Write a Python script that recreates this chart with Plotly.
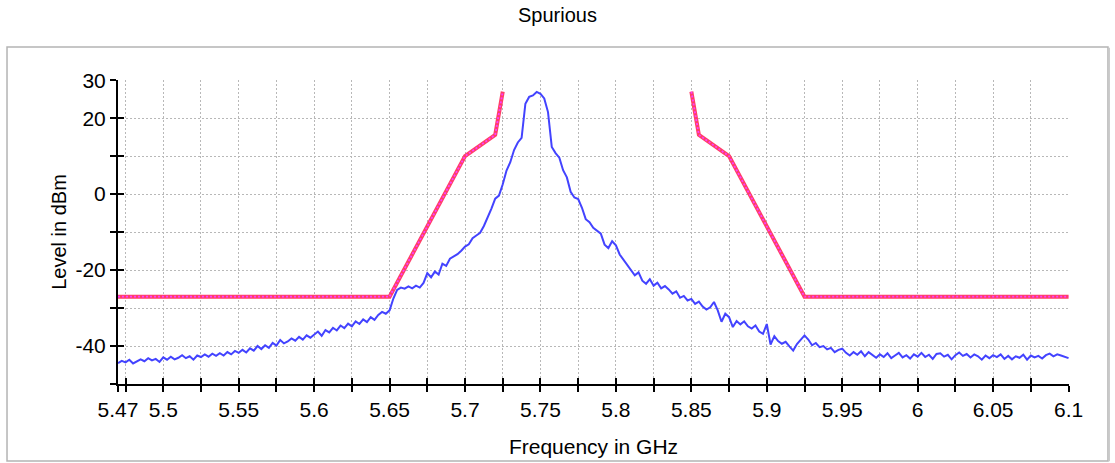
import numpy as np
import plotly.graph_objects as go

# ---- measured spectrum (0.0025 GHz steps from 5.47 to 6.10 GHz) ----
f_start = 5.47
f_step = 0.0025
level_dbm = [
    -44.5, -43.9, -44.3, -43.6, -44.6, -44.1, -43.5, -44.0, -43.2, -43.8,
    -43.4, -44.2, -43.0, -43.6, -42.8, -43.5, -43.1, -42.4, -43.2, -42.7,
    -43.6, -42.5, -42.9, -42.2, -42.8, -42.0, -42.6, -41.9, -42.5, -41.6,
    -42.2, -41.3, -41.8, -41.0, -41.7, -40.6, -41.2, -40.0, -40.8, -39.8,
    -40.5, -39.2, -39.9, -38.4, -39.3, -38.8, -38.0, -38.6, -37.6, -38.3,
    -37.2, -37.8, -36.9, -36.2, -37.3, -35.8, -36.4, -35.2, -35.9, -34.6,
    -35.3, -34.1, -34.8, -33.5, -34.2, -33.0, -33.7, -32.4, -33.1, -31.8,
    -31.0, -31.5, -30.6, -27.5, -25.2, -24.6, -24.9, -24.3, -24.8, -24.1,
    -24.6, -23.4, -20.8, -21.9, -20.4, -21.2, -18.3, -18.9, -17.0, -16.4,
    -15.8, -14.9, -13.8, -13.2, -11.6, -10.9, -10.2, -8.4, -6.3, -3.8,
    -1.2, -0.4, 2.6, 6.2, 8.4, 11.6, 13.6, 14.8, 23.8, 25.6,
    26.0, 26.9, 26.4, 25.2, 21.6, 12.4, 10.8, 9.6, 6.3, 4.4,
    0.6, -0.9, -1.3, -3.6, -6.6, -7.4, -8.9, -9.6, -10.4, -13.3,
    -14.2, -12.4, -13.5, -15.9, -17.2, -18.6, -19.8, -21.4, -20.6, -22.8,
    -23.6, -22.4, -24.1, -23.3, -24.8, -24.2, -25.1, -26.2, -25.6, -27.3,
    -26.8, -28.0, -27.6, -28.9, -28.3, -29.6, -30.4, -29.8, -28.4, -30.6,
    -33.6, -31.5, -32.4, -35.0, -33.4, -34.3, -33.5, -34.8, -35.4, -34.6,
    -36.2, -36.8, -34.2, -39.6, -37.4, -38.7, -39.4, -38.9, -40.1, -41.2,
    -39.5, -38.4, -37.2, -38.3, -39.8, -39.2, -40.3, -40.0, -40.9, -40.5,
    -41.6, -41.0, -40.7, -41.8, -42.5, -41.6, -42.3, -41.4, -42.7, -41.6,
    -42.4, -43.1, -42.2, -42.9, -41.9, -43.2, -42.5, -41.8, -43.0, -42.4,
    -43.3, -42.2, -42.8, -41.8, -42.9, -42.3, -43.4, -42.1, -41.9, -42.8,
    -42.3, -43.5, -42.4, -41.7, -42.6, -42.1, -43.0, -42.2, -42.7, -43.6,
    -42.5, -43.2, -42.4, -42.9, -42.2, -43.4, -42.6, -43.5, -42.7, -43.1,
    -42.3, -43.6, -42.5, -43.0, -42.6, -43.3, -42.4, -42.0, -42.7, -42.2,
    -42.5, -42.9, -43.2,
]
freq_ghz = f_start + f_step * np.arange(len(level_dbm))

# ---- spurious emission limit mask (gap over the operating band) ----
mask_freq = [5.47, 5.65, 5.70, 5.72, 5.725, None, 5.85, 5.855, 5.875, 5.925, 6.10]
mask_level = [-27, -27, 10, 15.6, 27, None, 27, 15.6, 10, -27, -27]

# ---- axis ticks: every 0.025 GHz, labelled every 0.05 GHz ----
x_tickvals = [5.47] + [round(5.475 + 0.025 * k, 3) for k in range(26)]
x_ticktext = ["5.47"] + [
    (f"{v:g}" if round(v * 1000) % 50 == 0 else "") for v in x_tickvals[1:]
]
y_tickvals = [-50, -40, -30, -20, -10, 0, 10, 20, 30]
y_ticktext = ["", "-40", "", "-20", "", "0", "", "20", "30"]

x_range = [5.47, 6.1003]
y_range = [-50, 30.05]

FONT = "Arial, Liberation Sans, sans-serif"

fig = go.Figure()

fig.add_trace(go.Scatter(
    x=freq_ghz, y=level_dbm, mode="lines",
    line=dict(color="#4343ff", width=2),
    showlegend=False, hoverinfo="skip",
))
fig.add_trace(go.Scatter(
    x=mask_freq, y=mask_level, mode="lines",
    line=dict(color="#ff3f66", width=4),
    showlegend=False, hoverinfo="skip",
))
fig.add_trace(go.Scatter(
    x=mask_freq, y=mask_level, mode="lines",
    line=dict(color="#ff3cff", width=1.8, dash="2px,2px"),
    showlegend=False, hoverinfo="skip",
))
# empty trace that activates the overlay axes carrying the inner tick halves
fig.add_trace(go.Scatter(
    x=[None], y=[None], xaxis="x2", yaxis="y2",
    showlegend=False, hoverinfo="skip",
))

axis_common = dict(
    showline=True, linecolor="black", linewidth=2,
    tickcolor="black", tickwidth=1.5, ticklen=6,
    zeroline=False, automargin=False,
    tickfont=dict(family=FONT, size=21, color="black"),
)

fig.update_layout(
    width=1115, height=463,
    margin=dict(l=118, r=46, t=80, b=79),
    paper_bgcolor="white", plot_bgcolor="white",
    title=dict(text="Spurious", x=0.5, xref="container", xanchor="center",
               y=1 - 15 / 463, yref="container", yanchor="middle",
               font=dict(family=FONT, size=20, color="black")),
    xaxis=dict(
        range=x_range, tickmode="array", tickvals=x_tickvals, ticktext=x_ticktext,
        ticks="outside", showgrid=True, gridcolor="#b8b8b8", gridwidth=1,
        griddash="2px,2px",
        title=dict(text="Frequency in GHz", standoff=19,
                   font=dict(family=FONT, size=21, color="black")),
        **axis_common,
    ),
    yaxis=dict(
        range=y_range, tickmode="array", tickvals=y_tickvals, ticktext=y_ticktext,
        ticks="outside", showgrid=True, gridcolor="#b8b8b8", gridwidth=1,
        griddash="2px,2px",
        title=dict(text="Level in dBm", standoff=3,
                   font=dict(family=FONT, size=20, color="black")),
        **axis_common,
    ),
    xaxis2=dict(
        overlaying="x", anchor="y", range=x_range, tickmode="array",
        tickvals=x_tickvals, ticks="inside", ticklen=6, tickwidth=1.5,
        tickcolor="black", showticklabels=False, showgrid=False,
        showline=False, zeroline=False, automargin=False,
    ),
    yaxis2=dict(
        overlaying="y", anchor="x", range=y_range, tickmode="array",
        tickvals=y_tickvals, ticks="inside", ticklen=6, tickwidth=1.5,
        tickcolor="black", showticklabels=False, showgrid=False,
        showline=False, zeroline=False, automargin=False,
    ),
)

# outer panel frame
fig.add_shape(type="rect", xref="paper", yref="paper",
              x0=-0.1167, x1=1.0410, y0=-0.2533, y1=1.1086,
              line=dict(color="#b4b4b4", width=1.5), layer="below")
fig.add_shape(type="line", xref="paper", yref="paper",
              x0=1.0420, x1=1.0420, y0=-0.2543, y1=1.1060,
              line=dict(color="#c8c8c8", width=2), layer="below")

fig.write_html("out.html")
